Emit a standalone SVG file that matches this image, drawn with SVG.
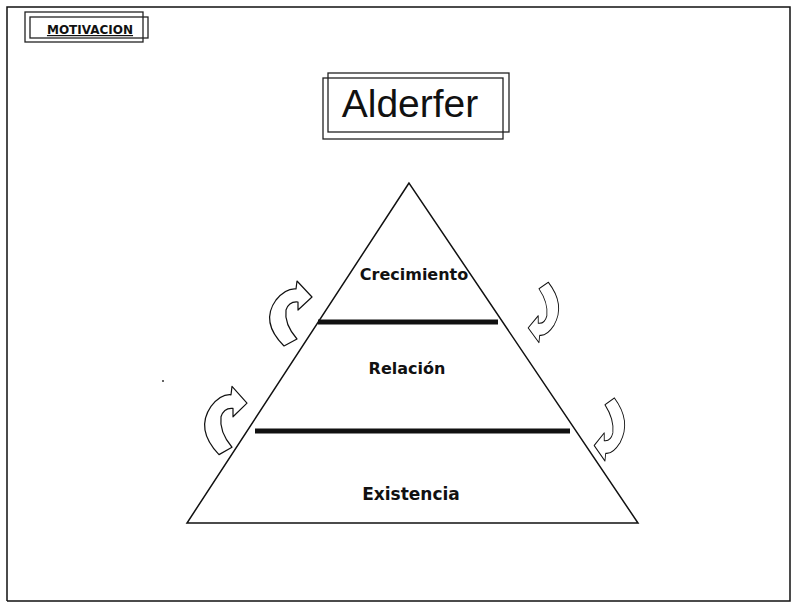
<svg xmlns="http://www.w3.org/2000/svg" width="795" height="603" viewBox="0 0 795 603">
<style>
.ln{fill:none;stroke:#111;stroke-width:1.5}
.box{fill:none;stroke:#222;stroke-width:1.3}
.bar{stroke:#111;stroke-width:5;stroke-linecap:butt}
.lbl{font-family:"DejaVu Sans",sans-serif;font-weight:bold;font-size:16px;fill:#111;text-anchor:middle}
.arr{fill:#fff;stroke:#111;stroke-width:1.2;stroke-linejoin:round}
</style>
<defs>
<path id="carrow" d="M -6,32 Q -30,8 -14,-14 Q -4,-26 6,-25 L 7,-33 L 22,-17 L 8,-4 L 8,-12 Q -1,-13 -4,-4 Q -6,10 7,25 Z"/>
</defs>
<rect x="0" y="0" width="795" height="603" fill="#fff"/>
<g id="frame"><path class="ln" d="M7,601 L7,7 L790,7 L790,601 L7,601"/></g>
<g id="motivacion">
<rect class="box" x="25" y="12" width="118" height="30"/>
<rect class="box" x="30" y="17" width="118" height="21"/>
<text x="90" y="34" font-family="DejaVu Sans,sans-serif" font-weight="bold" font-size="12" fill="#111" text-anchor="middle" text-decoration="underline">MOTIVACION</text>
</g>
<g id="title">
<rect class="box" x="328" y="73" width="181" height="59"/>
<rect class="box" x="323" y="78" width="180" height="61"/>
<text x="410" y="117" font-family="Liberation Sans,Arial,sans-serif" font-size="39" fill="#111" text-anchor="middle">Alderfer</text>
</g>
<g id="pyramid">
<path class="ln" d="M409,183 L187,523 L638,523 Z"/>
<line class="bar" x1="318" y1="322" x2="498" y2="322"/>
<line class="bar" x1="255" y1="431" x2="570" y2="431"/>
</g>
<g id="crecimiento"><text class="lbl" x="414" y="280">Crecimiento</text></g>
<g id="relacion"><text class="lbl" x="407" y="374">Relación</text></g>
<g id="existencia"><text class="lbl" x="411" y="500" style="font-size:17px">Existencia</text></g>
<g id="connectors">
<use href="#carrow" class="arr" transform="translate(290,314)"/>
<use href="#carrow" class="arr" transform="translate(544,312) rotate(180) scale(0.72,0.93)"/>
<use href="#carrow" class="arr" transform="translate(225,421) scale(1,1.05)"/>
<use href="#carrow" class="arr" transform="translate(610,429) rotate(180) scale(0.72,0.97)"/>
</g>
<circle cx="163" cy="381" r="1" fill="#333"/>
</svg>
